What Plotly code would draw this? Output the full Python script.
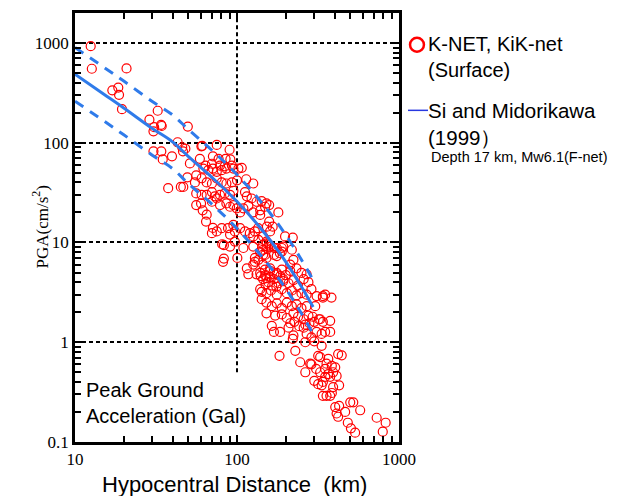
import plotly.graph_objects as go

# ---------------- data ----------------
dist = [12.5, 12.7, 20.8, 17, 18.5, 18.7, 19.5,
        32.4, 28.8, 30.8, 30.5, 34, 34.3,
        49.7, 43, 45.9, 48, 46.4, 30.5, 34.1, 34.8, 39.7,
        37.6, 45, 46.6, 49.4, 51.2, 55, 61,
        60.3, 75, 90, 71, 77, 85, 91, 59, 64, 70, 78.5, 84, 93, 62, 66.5, 71, 75, 80.5, 86, 95, 102, 107,
        114, 126, 56, 60.5, 65, 70, 75, 80.5, 86, 93, 100, 56, 60.5, 65, 70, 73, 78.5, 84, 90.6, 95,
        112, 115, 123, 132, 142, 152, 158, 56, 60, 61.4, 65, 64.4, 70, 75, 78.5, 86, 90.6, 95, 99.6,
        104.5, 109.5, 117.5, 126, 139, 149, 180, 75, 80.5, 88, 95, 90.6, 97, 104.5, 112, 120, 129, 126,
        135.5, 145, 152, 160, 158, 166, 81, 83, 90.6, 97, 109.5, 126, 145, 152, 172, 198, 221, 189, 218,
        71, 70,
        139, 153, 135, 176, 158, 169, 184, 149, 139, 129, 145, 160, 132, 152, 176, 193, 213,
        82, 83, 100.5, 115, 117.5, 126, 129, 135.5, 145, 152, 145, 160, 152, 169, 176, 189, 193, 223, 213,
        233, 250, 269, 189, 176, 160, 149, 139,
        145, 156, 169, 180, 193, 208, 223, 238, 258, 276,
        139, 152, 162, 176, 189, 203, 218, 233, 250, 269, 288, 310, 339,
        152, 164, 176, 189, 203, 218, 233, 250, 269, 304,
        152, 172, 189, 203, 223, 238, 258, 276, 293, 320, 339,
        213, 226, 242, 264, 280, 300, 326,
        140, 150, 160, 170, 150, 165, 185, 200, 175, 142, 142,
        164, 169, 184.5, 208, 223, 221, 258, 269, 288, 310, 333, 350, 376, 376, 264, 300, 333, 339, 350, 383,
        229, 245.6, 183, 264, 283, 288, 317, 326, 366, 421, 443, 300, 317, 333, 339, 308, 326, 350, 366, 392,
        404, 376, 350, 412, 385, 357, 392, 427, 339, 357, 376, 385, 404, 427, 412, 421, 465, 500, 522, 576,
        483, 505, 536, 728, 794, 827]
pga = [927, 551, 555, 335, 357, 302, 217,
       209, 170, 143, 130, 151, 147,
       145, 101, 90, 87, 82, 82, 82, 68, 73,
       35, 36, 36, 45, 62, 40, 93,
       92, 95, 85, 73, 69, 69, 68, 69, 59, 61.5, 59, 58, 59, 55, 53, 55, 51, 53, 55, 55, 55, 56,
       43, 39, 47, 44, 40, 39, 44, 40, 39, 40, 42, 31, 30, 30, 32, 29, 30, 31, 30, 33,
       32, 29, 27.6, 25.6, 26, 24.6, 23.7, 23.7, 24.6, 21, 19, 16.2, 25.6, 27.6, 23.7, 24.6, 22.8, 23.7, 22,
       20, 22, 23.3, 20, 21, 22.8, 20, 12.9, 13.9, 13.9, 15, 12, 12.9, 13.9, 12.9, 12.4, 12.9, 11.5,
       10.6, 11.5, 10.2, 12.9, 16.2, 14.4, 9.6, 9.4, 9.1, 10.2, 8.8, 9.1, 9.5, 8.8, 8.8, 11.5, 11.2, 8.8, 8.45,
       14, 12.4,
       18.9, 14.4, 13.9, 8.8, 9.5, 7.5, 7.8, 7.5, 8.0, 7.0, 6.0, 5.5, 4.8, 4.4, 4.8, 4.1, 5.2,
       6.4, 6.9, 7.0, 5.5, 4.8, 6.0, 6.4, 6.7, 7.55, 7.0, 8.45, 9.1, 9.8, 8.8, 7.3, 8.1, 9.1, 6.7, 6.0,
       5.5, 4.95, 4.8, 5.35, 4.95, 5.2, 5.35, 4.95,
       4.3, 4.0, 4.3, 3.9, 4.3, 3.9, 4.2, 3.7, 4.3, 4.0,
       3.4, 3.1, 3.3, 3.0, 3.4, 3.1, 3.3, 2.95, 3.1, 3.0, 3.4, 2.9, 2.9,
       2.5, 2.3, 2.45, 2.2, 2.5, 2.3, 2.4, 2.2, 2.3, 2.3,
       1.95, 1.85, 1.9, 1.75, 1.95, 1.8, 1.7, 1.85, 1.8, 1.7, 1.6,
       1.55, 1.6, 1.45, 1.5, 1.55, 1.6, 1.7,
       4.6, 4.7, 4.5, 4.8, 3.8, 3.7, 4.6, 4.7, 3.6, 3.2, 2.7,
       1.46, 1.27, 1.27, 1.40, 1.17, 1.08, 1.40, 1.21, 1.12, 1.27, 1.21, 1.27, 1.64, 1.27, 1.0, 1.02, 0.92, 2.8, 3.0, 2.8,
       0.82, 0.63, 0.73, 0.50, 0.61, 0.60, 0.73, 0.71, 0.68, 0.76, 0.74, 0.41, 0.38, 0.37, 0.40, 0.54, 0.50, 0.54, 0.48, 0.50,
       0.56, 0.45, 0.45, 0.46, 0.58, 0.61, 0.355, 0.37, 0.29, 0.29, 0.29, 0.31, 0.224, 0.23, 0.193, 0.179, 0.20, 0.25, 0.25, 0.208,
       0.156, 0.137, 0.124, 0.175, 0.127, 0.156]

# Si and Midorikawa (1999) curve
curve_dist = [10, 15, 20, 30, 40, 50, 70, 100, 150, 200, 250, 295]
curve_mean = [485, 308, 223, 139, 102, 73, 45, 25.7, 12.1, 6.4, 3.6, 2.25]
curve_upper = [900, 573, 415, 259, 190, 136, 84, 47.8, 22.5, 11.9, 6.7, 4.2]
curve_lower = [261, 166, 120, 75, 55, 39, 24.2, 13.8, 6.5, 3.44, 1.94, 1.21]

x_ticks = [10, 100, 1000]
y_ticks = [0.1, 1, 10, 100, 1000]
x_minor = [m * d for d in (10, 100) for m in range(2, 10)]
y_minor = [round(m * d, 3) for d in (0.1, 1, 10, 100, 1000) for m in range(2, 10)]
vline_x = 100
vline_y = [0.5, 2000]

RED = "#FF0000"
BLUE = "#2F7BEA"
SERIF = "Liberation Serif"
SANS = "Liberation Sans"

fig = go.Figure()

# vertical dashed reference line at 100 km
fig.add_trace(go.Scatter(x=[vline_x, vline_x], y=vline_y, mode="lines",
                         line=dict(color="black", width=2, dash="4px,3px"),
                         hoverinfo="skip", showlegend=False))

fig.add_trace(go.Scatter(x=dist, y=pga, mode="markers",
                         marker=dict(symbol="circle-open", size=9, color=RED,
                                     line=dict(color=RED, width=1.2)),
                         showlegend=False))

for yy, dash in ((curve_upper, "10px,8px"), (curve_lower, "10px,8px"), (curve_mean, "solid")):
    fig.add_trace(go.Scatter(x=curve_dist, y=yy, mode="lines", line_shape="spline",
                             line=dict(color=BLUE, width=3, dash=dash),
                             hoverinfo="skip", showlegend=False))

axis_common = dict(type="log", ticks="inside", ticklen=7, tickwidth=2, tickcolor="black",
                   showline=True, linewidth=2.5, linecolor="black", mirror="ticks",
                   tickfont=dict(family=SERIF, size=17, color="black"))

fig.update_xaxes(range=[1, 3], tickvals=x_ticks, ticktext=[str(v) for v in x_ticks],
                 showgrid=False, zeroline=False,
                 minor=dict(tickvals=x_minor, ticks="inside", ticklen=6, tickwidth=2,
                            tickcolor="black", showgrid=False),
                 **axis_common)
fig.update_yaxes(range=[-1, 3.3], tickvals=y_ticks, ticktext=["0.1", "1", "10", "100", "1000"],
                 showgrid=True, gridcolor="black", gridwidth=2, griddash="4px,3px",
                 zeroline=False, ticklabelstandoff=0,
                 minor=dict(tickvals=y_minor, ticks="inside", ticklen=6, tickwidth=2,
                            tickcolor="black", showgrid=False),
                 **axis_common)

annos = [
    dict(text="Hypocentral Distance&nbsp;&nbsp;(km)", x=0.077, y=-0.0995, xanchor="left", yanchor="middle",
         font=dict(family=SANS, size=22, color="black")),
    dict(text="PGA(cm/s<sup>2</sup>)", x=-0.108, y=0.5, xanchor="center", yanchor="middle",
         textangle=-90, font=dict(family=SERIF, size=17, color="black")),
    dict(text="Peak Ground<br>Acceleration (Gal)", x=0.029, y=0.0903, xanchor="left", yanchor="middle",
         align="left", font=dict(family=SANS, size=20, color="black")),
    dict(text="K-NET, KiK-net<br>(Surface)", x=1.084, y=0.8977, xanchor="left", yanchor="middle",
         align="left", font=dict(family=SANS, size=20, color="black")),
    dict(text="Si and Midorikawa<br>(1999）", x=1.084, y=0.7419, xanchor="left", yanchor="middle",
         align="left", font=dict(family=SANS, size=20.5, color="black")),
    dict(text="Depth 17 km, Mw6.1(F-net)", x=1.0915, y=0.6644, xanchor="left", yanchor="middle",
         align="left", font=dict(family=SANS, size=14.5, color="black")),
]
for a in annos:
    a.update(xref="paper", yref="paper", showarrow=False)

shapes = [
    dict(type="circle", xref="paper", yref="paper", x0=1.034, x1=1.077, y0=0.9097, y1=0.9421,
         line=dict(color=RED, width=2.5)),
    dict(type="line", xref="paper", yref="paper", x0=1.0278, x1=1.0895, y0=0.7731, y1=0.7731,
         line=dict(color="#2838E0", width=1.5)),
]

fig.update_layout(width=627, height=496, margin=dict(l=75, r=228, t=10, b=54),
                  paper_bgcolor="white", plot_bgcolor="white",
                  annotations=annos, shapes=shapes, showlegend=False)

fig.write_html("out.html", config={"displayModeBar": False},
               post_script="document.body.style.margin='0px';")
